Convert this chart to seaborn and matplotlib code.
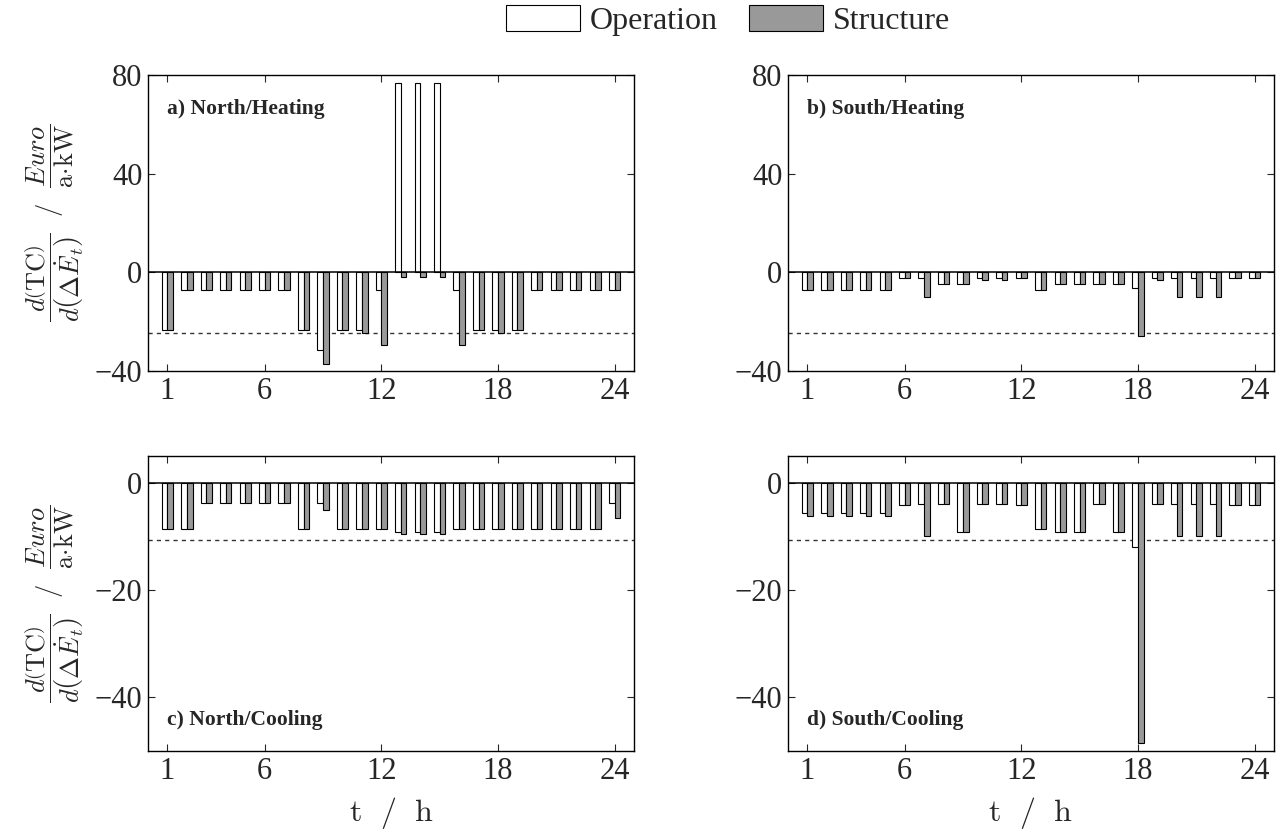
import matplotlib
matplotlib.use("Agg")
import matplotlib.pyplot as plt
from matplotlib.patches import Patch
import seaborn as sns
import pandas as pd

hours = list(range(1, 25))

# a) North/Heating
na_op = [-23.5, -7, -7, -7, -7, -7, -7, -23.5, -31.3, -23.5, -23.5, -7,
         76.6, 76.6, 76.6, -7, -23.5, -23.5, -23.5, -7, -7, -7, -7, -7]
na_st = [-23.5, -7, -7, -7, -7, -7, -7, -23.5, -37, -23.5, -24.5, -29.6,
         -1.9, -1.9, -1.9, -29.6, -23.5, -24.5, -23.5, -7, -7, -7, -7, -7]
# b) South/Heating
sh_op = [-7, -7, -7, -7, -7, -2.2, -2.2, -4.6, -4.6, -2.2, -2.2, -2.2,
         -7, -4.6, -4.6, -4.6, -4.6, -6.4, -2.2, -2.2, -2.2, -2.2, -2.2, -2.2]
sh_st = [-7, -7, -7, -7, -7, -2.2, -10, -4.6, -4.6, -3.2, -3.2, -2.2,
         -7, -4.6, -4.6, -4.6, -4.6, -26, -3.2, -10, -10, -10, -2.2, -2.2]
# c) North/Cooling
nc_op = [-8.6, -8.6, -3.7, -3.7, -3.7, -3.7, -3.7, -8.6, -3.7, -8.6, -8.6, -8.6,
         -9.1, -9.1, -9.1, -8.6, -8.6, -8.6, -8.6, -8.6, -8.6, -8.6, -8.6, -3.7]
nc_st = [-8.6, -8.6, -3.7, -3.7, -3.7, -3.7, -3.7, -8.6, -5.0, -8.6, -8.6, -8.6,
         -9.5, -9.5, -9.5, -8.6, -8.6, -8.6, -8.6, -8.6, -8.6, -8.6, -8.6, -6.6]
# d) South/Cooling
sc_op = [-5.65, -5.65, -5.65, -5.65, -5.65, -4.1, -3.9, -3.9, -9.1, -3.9, -3.9, -4.1,
         -8.6, -9.1, -9.1, -3.9, -9.1, -11.9, -3.9, -3.9, -3.9, -3.9, -4.1, -4.1]
sc_st = [-6.15, -6.15, -6.15, -6.15, -6.15, -4.1, -9.9, -3.9, -9.1, -3.9, -3.9, -4.1,
         -8.6, -9.1, -9.1, -3.9, -9.1, -48.6, -3.9, -9.9, -9.9, -9.9, -4.1, -4.1]

heat_ref = -24.4
cool_ref = -10.7

panels = [
    ("a) North/Heating", na_op, na_st, heat_ref, "top"),
    ("b) South/Heating", sh_op, sh_st, heat_ref, "top"),
    ("c) North/Cooling", nc_op, nc_st, cool_ref, "bottom"),
    ("d) South/Cooling", sc_op, sc_st, cool_ref, "bottom"),
]

sns.set_theme(style="ticks")
plt.rcParams["font.family"] = ["Liberation Serif", "DejaVu Serif"]
plt.rcParams["mathtext.fontset"] = "cm"
plt.rcParams["xtick.direction"] = "in"
plt.rcParams["ytick.direction"] = "in"
plt.rcParams["xtick.top"] = True
plt.rcParams["ytick.right"] = True

colores = {"Operation": "white", "Structure": "#999999"}

fig = plt.figure(figsize=(12.84, 8.32), dpi=100)
posiciones = [
    [0.1153, 0.5541, 0.3785, 0.3558],
    [0.6137, 0.5541, 0.3785, 0.3558],
    [0.1153, 0.0974, 0.3785, 0.3546],
    [0.6137, 0.0974, 0.3785, 0.3546],
]

ylabel = (r"$\dfrac{d\left(\mathrm{TC}\right)}{d\left(\Delta\dot{E}_t\right)}"
          r"\ \ /\ \ \dfrac{Euro}{\mathrm{a{\cdot}kW}}$")

for idx, (titulo, op, st, ref, fila) in enumerate(panels):
    ax = fig.add_axes(posiciones[idx])
    df = pd.DataFrame({
        "hora": hours * 2,
        "valor": op + st,
        "tipo": ["Operation"] * 24 + ["Structure"] * 24,
    })
    sns.barplot(data=df, x="hora", y="valor", hue="tipo",
                hue_order=["Operation", "Structure"], palette=colores,
                native_scale=True, width=0.58, edgecolor="black", linewidth=0.8,
                errorbar=None, legend=False, ax=ax)
    ax.axhline(0, color="black", linewidth=1.1, zorder=3)
    ax.axhline(ref, color="0.2", linewidth=1, linestyle=(0, (3, 3)), zorder=0.5)
    ax.set_xlim(0, 25)
    ax.set_xticks([1, 6, 12, 18, 24])
    if fila == "top":
        ax.set_ylim(-40, 80)
        ax.set_yticks([-40, 0, 40, 80])
        ax.text(0.04, 0.885, titulo, transform=ax.transAxes, fontsize=15.5,
                fontweight="bold", va="center")
        ax.set_xlabel("")
    else:
        ax.set_ylim(-50, 5)
        ax.set_yticks([-40, -20, 0])
        ax.text(0.04, 0.105, titulo, transform=ax.transAxes, fontsize=15.5,
                fontweight="bold", va="center")
        ax.set_xlabel(r"$\mathrm{t\ \ /\ \ h}$", fontsize=23, labelpad=7)
    if idx in (0, 2):
        ax.set_ylabel(ylabel, fontsize=19)
        ax.yaxis.set_label_coords(-0.128, 0.5)
    else:
        ax.set_ylabel("")
    ax.tick_params(labelsize=22, length=5, width=0.8, pad=4)
    for s in ax.spines.values():
        s.set_linewidth(1)
        s.set_color("black")

handles = [Patch(facecolor=colores[k], edgecolor="black", linewidth=0.8, label=k)
           for k in ["Operation", "Structure"]]
fig.legend(handles=handles, loc="center", bbox_to_anchor=(0.567, 0.975), ncol=2,
           frameon=False, fontsize=23, handlelength=2.3, handleheight=0.85,
           handletextpad=0.3, columnspacing=1.0)

fig.savefig("out.png", dpi=100)
